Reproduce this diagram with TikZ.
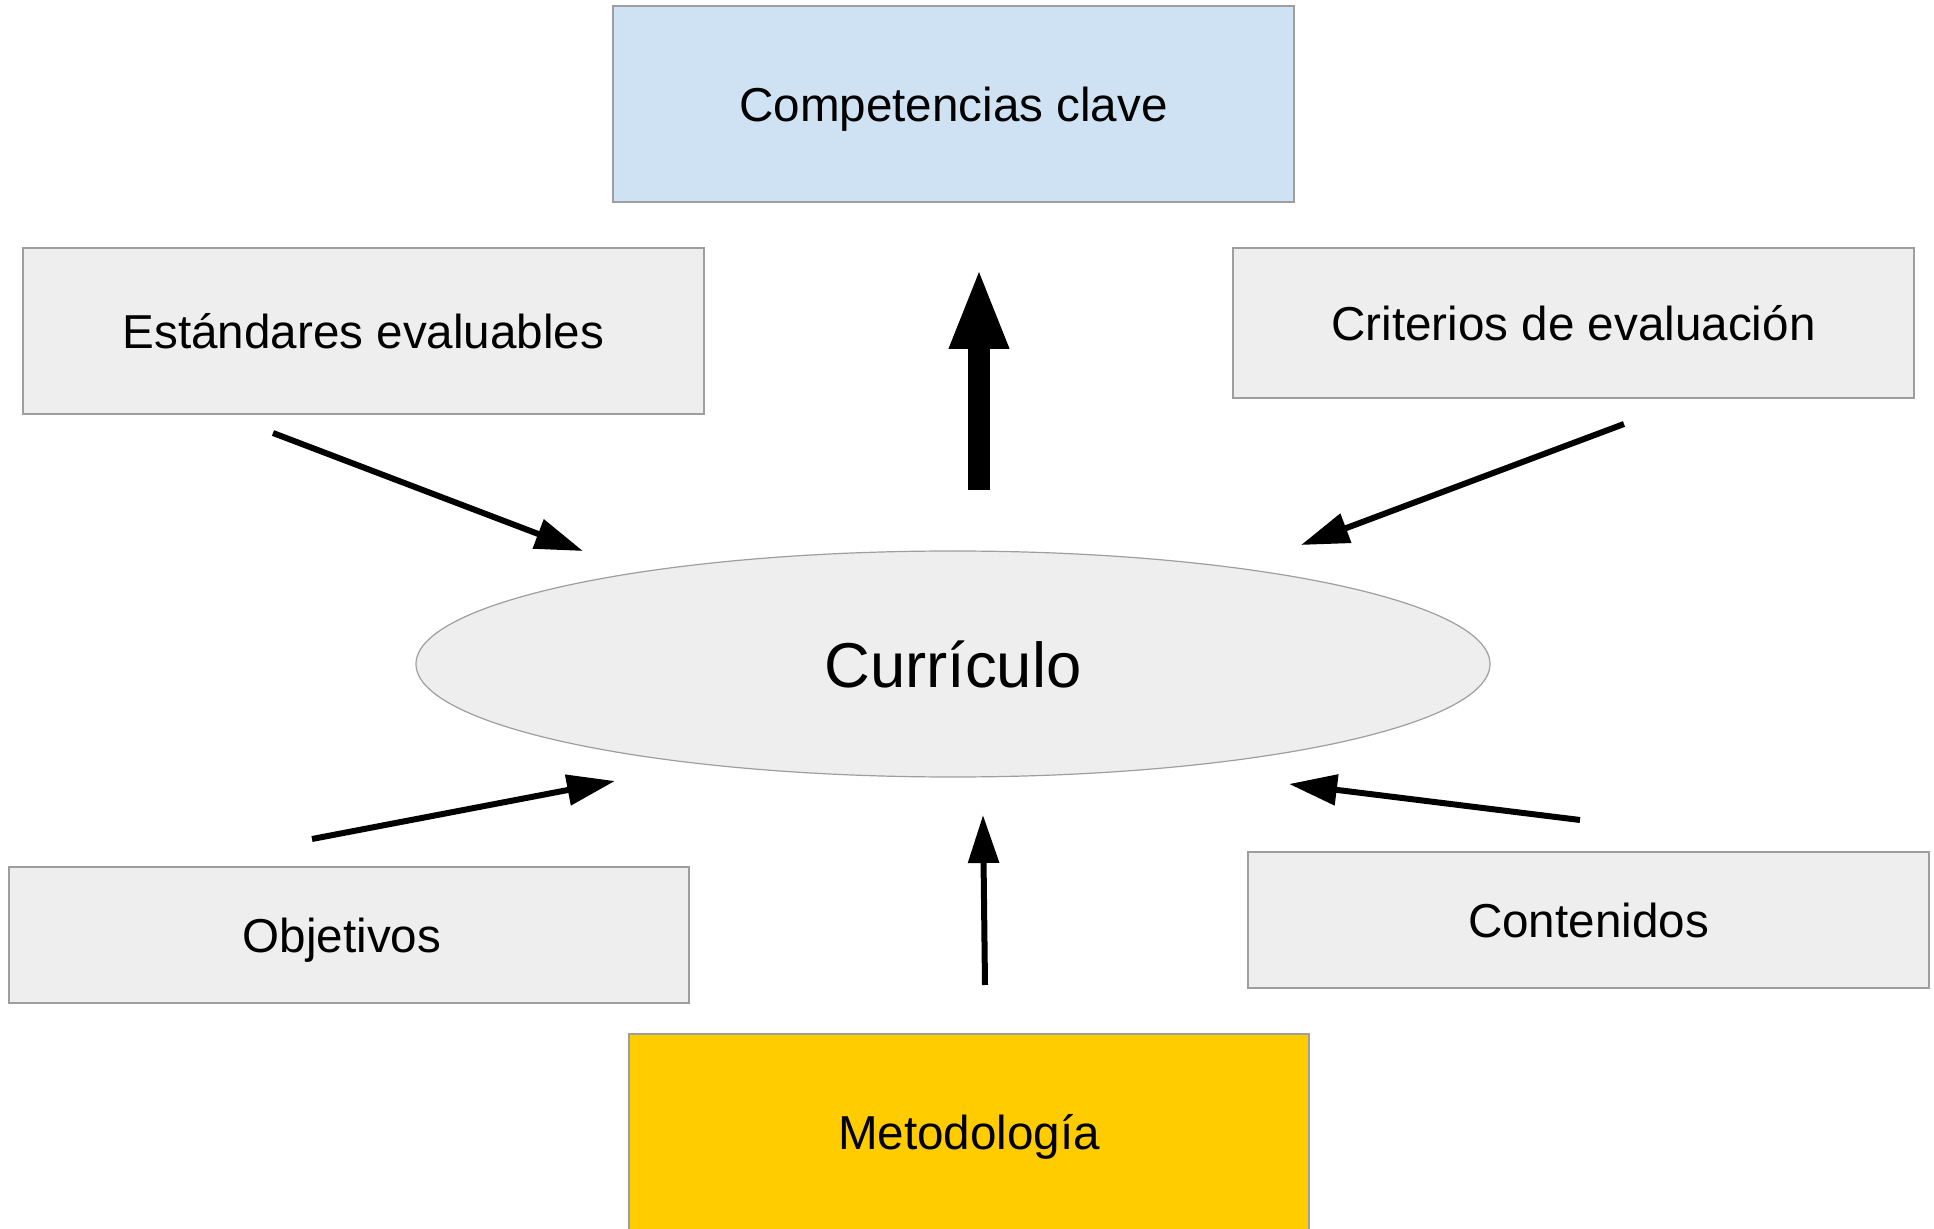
\documentclass[tikz,border=0pt]{standalone}
\usepackage{fontspec}
\setmainfont{Liberation Sans}
\usetikzlibrary{arrows.meta,shapes.geometric}
\definecolor{boxgray}{HTML}{EEEEEE}
\definecolor{edgegray}{HTML}{9E9E9E}
\definecolor{lightblue}{HTML}{CFE2F3}
\definecolor{gold}{HTML}{FFCC00}
\tikzset{
  box/.style={draw=edgegray, line width=0.6pt, fill=boxgray, inner sep=0pt, outer sep=0pt,
    font=\fontsize{23.8}{28}\selectfont, text=black, align=center, text depth=0pt},
  conn/.style={line width=3pt, -{Triangle[length=24pt,width=15pt]}},
  bigconn/.style={line width=11pt, -{Triangle[length=41pt,width=27pt]}}
}
\begin{document}
\begin{tikzpicture}[x=0.5pt,y=-0.5pt]
\useasboundingbox (0,0) rectangle (1934,1229);
\node[box, fill=lightblue, minimum width=340.5pt, minimum height=98pt] (comp) at (953.5,104) {Competencias clave};
\node[box, minimum width=340.5pt, minimum height=83pt] (est) at (363.5,331) {Estándares evaluables};
\node[box, minimum width=340.5pt, minimum height=75pt] (crit) at (1573.5,323) {Criterios de evaluación};
\node[box, minimum width=340pt, minimum height=68pt] (obj) at (349,935) {Objetivos\hspace*{7pt}};
\node[box, minimum width=340.5pt, minimum height=68pt] (cont) at (1588.5,920) {Contenidos};
\node[box, fill=gold, minimum width=340pt, minimum height=98pt] (met) at (969,1132) {Metodología};
\node[ellipse, draw=edgegray, line width=0.6pt, fill=boxgray, inner sep=0pt, minimum width=537pt, minimum height=113pt,
  text depth=0pt, font=\fontsize{31.7}{36}\selectfont] (curr) at (953,664) {Currículo};

\coordinate (bigS) at (979,490);
\coordinate (bigT) at (979,267);
\coordinate (estS) at (273,433);
\coordinate (estT) at (583,551);
\coordinate (critS) at (1624,424);
\coordinate (critT) at (1301,545);
\coordinate (objS) at (312,839);
\coordinate (objT) at (615,781);
\coordinate (contS) at (1580,820);
\coordinate (contT) at (1289,784);
\coordinate (metS) at (985,985);
\coordinate (metT) at (983,815);

\draw[bigconn] (bigS) -- (bigT);
\draw[conn] (estS) -- (estT);
\draw[conn] (critS) -- (critT);
\draw[conn] (objS) -- (objT);
\draw[conn] (contS) -- (contT);
\draw[conn] (metS) -- (metT);
\end{tikzpicture}
\end{document}
